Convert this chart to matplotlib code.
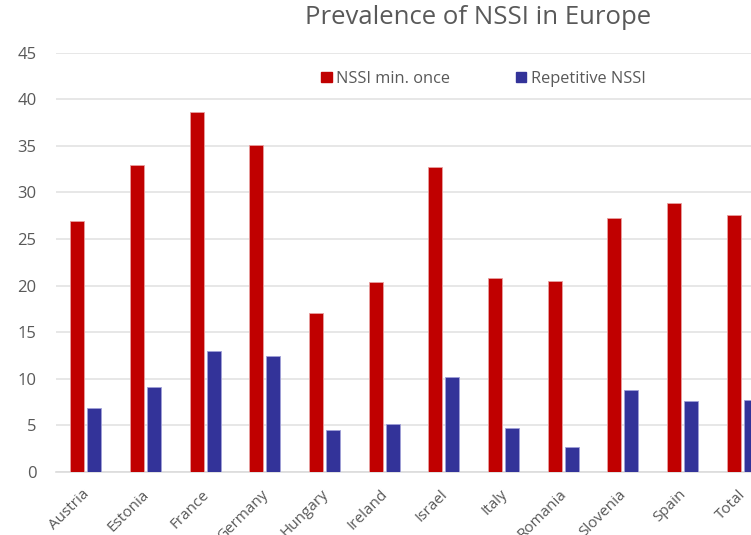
import numpy as np
import matplotlib.pyplot as plt
from matplotlib.patches import Patch
from matplotlib.transforms import ScaledTranslation

plt.rcParams['font.family'] = ['Open Sans', 'DejaVu Sans']

countries = ['Austria', 'Estonia', 'France', 'Germany', 'Hungary', 'Ireland',
             'Israel', 'Italy', 'Romania', 'Slovenia', 'Spain', 'Total']
nssi_once = [26.9, 33.0, 38.6, 35.1, 17.1, 20.4, 32.7, 20.8, 20.5, 27.3, 28.9, 27.6]
nssi_rep = [6.9, 9.1, 13.0, 12.4, 4.5, 5.2, 10.2, 4.7, 2.7, 8.8, 7.6, 7.7]
yticks = [0, 5, 10, 15, 20, 25, 30, 35, 40, 45]

red = '#C00000'
blue = '#333399'
grey = '#595959'

fig = plt.figure(figsize=(7.51, 5.35), dpi=100)
# plot area runs past the right edge of the picture, as in the reference
ax = fig.add_axes([0.0746, 0.1178, 0.9534, 0.7837])

x = np.arange(len(countries))
w = 0.235
off = 0.143
ax.bar(x - off, nssi_once, w, color=red, edgecolor='#e8a0a0', linewidth=0.6, zorder=3)
ax.bar(x + off, nssi_rep, w, color=blue, edgecolor='#a0a0d8', linewidth=0.6, zorder=3)

ax.set_xlim(-0.5, len(countries) - 0.5)
ax.set_ylim(0, 45)
ax.set_yticks(yticks)
ax.yaxis.grid(True, color='#e3e3e3', linewidth=1.2, zorder=0)
ax.set_axisbelow(True)
for s in ['top', 'right', 'left']:
    ax.spines[s].set_visible(False)
ax.spines['bottom'].set_color('#dcdcdc')
ax.spines['bottom'].set_linewidth(1.2)
ax.tick_params(axis='both', length=0, colors=grey)
ax.tick_params(axis='y', pad=14, labelsize=12)
ax.tick_params(axis='x', labelsize=11)

ax.set_xticks(x)
ax.set_xticklabels(countries, rotation=45, ha='right', va='top', rotation_mode='anchor')
for lbl in ax.get_xticklabels():
    lbl.set_transform(lbl.get_transform() + ScaledTranslation(-0.04, -0.10, fig.dpi_scale_trans))

fig.text(0.6365, 0.99, 'Prevalence of NSSI in Europe', ha='center', va='top',
         fontsize=18.5, color=grey)

handles = [Patch(color=red), Patch(color=blue)]
fig.legend(handles, ['NSSI min. once', 'Repetitive NSSI'], loc='center',
           bbox_to_anchor=(0.644, 0.853), ncol=2, frameon=False, fontsize=11.8,
           handlelength=0.62, handleheight=0.62, handletextpad=0.3,
           columnspacing=4.0, labelcolor=grey)

plt.savefig('out.png', dpi=100)
